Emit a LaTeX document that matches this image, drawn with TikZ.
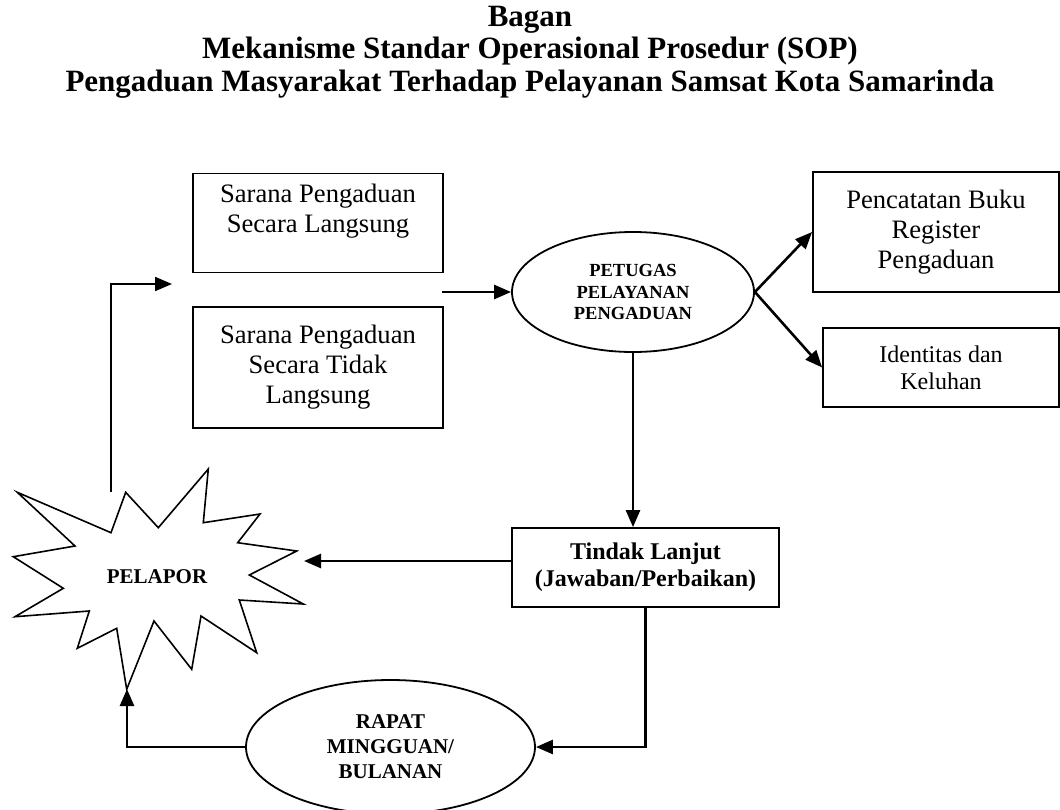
\documentclass[tikz,border=0pt]{standalone}
\usepackage{fontspec}
\setmainfont{Liberation Serif}
\usetikzlibrary{arrows.meta,shapes.geometric}

\tikzset{
  box/.style={draw, line width=1.8pt, align=center, inner sep=0pt,
    font=\fontsize{26.6}{30}\selectfont},
  oval/.style={draw, ellipse, line width=1.8pt, align=center, inner sep=0pt},
  arr/.style={line width=2.6pt, -{Triangle[length=17pt,width=14pt]}},
}

\begin{document}
\begin{tikzpicture}[x=1pt,y=-1pt]
  \useasboundingbox (0,0) rectangle (1060,809);

  % judul
  \node[align=center, font=\fontsize{31}{32.5}\selectfont\bfseries] (judul) at (530,52)
    {Bagan\\Mekanisme Standar Operasional Prosedur (SOP)\\Pengaduan Masyarakat Terhadap Pelayanan Samsat Kota Samarinda};

  \node[box, minimum width=250, minimum height=99] (langsung) at (318,223) {Sarana Pengaduan\\Secara Langsung\\\mbox{}};
  \node[box, minimum width=250, minimum height=121] (tidaklangsung) at (318,367.5) {Sarana Pengaduan\\Secara Tidak\\Langsung};

  \node[oval, minimum width=242, minimum height=120, font=\fontsize{18.5}{21.5}\selectfont\bfseries] (petugas) at (633,292) {PETUGAS\\PELAYANAN\\PENGADUAN};

  \node[box, minimum width=246, minimum height=120] (pencatatan) at (936,232) {Pencatatan Buku\\Register\\Pengaduan};
  \node[box, minimum width=236, minimum height=79, font=\fontsize{24}{27}\selectfont] (identitas) at (941,367.5) {Identitas dan\\Keluhan};

  \node[box, minimum width=267, minimum height=79, font=\fontsize{24}{27}\selectfont\bfseries] (tindak) at (645.5,567.5) {Tindak Lanjut\\(Jawaban/Perbaikan)};
  \node[oval, minimum width=289, minimum height=134, font=\fontsize{21}{25}\selectfont\bfseries] (rapat) at (390.5,747) {RAPAT\\MINGGUAN/\\BULANAN};

  % pelapor
  \node[font=\fontsize{21}{25}\selectfont\bfseries] (pelapor) at (157,577) {PELAPOR};
  \draw[line width=1.6pt, line join=miter] (17.3,492.3) -- (111,532.7) -- (125.7,492.3) -- (158.3,527.7)
    -- (208.3,469) -- (203.3,522.7) -- (260,514) -- (237.7,542.7) -- (296.7,551) -- (249.3,575)
    -- (303.3,604) -- (239.3,600) -- (256.7,652.7) -- (201,616) -- (191.7,669.3) -- (154,621)
    -- (126.7,689.3) -- (116.7,628.3) -- (77.3,648.3) -- (89.3,611) -- (15,616.7) -- (63.3,588.3)
    -- (13.3,556.7) -- (75,546) -- cycle;

  \coordinate (pelapor-masuk) at (304,561);
  \coordinate (pelapor-bawah) at (127,689);
  \coordinate (balik) at (111,492);
  \coordinate (balik-ujung) at (172,284);
  \coordinate (sarana-keluar) at (442,292);

  \draw[line width=2pt, -{Triangle[length=17pt,width=14pt]}] (balik) |- (balik-ujung);
  \draw[arr] (sarana-keluar) -- (petugas.west);
  \draw[arr] (petugas.east) -- (pencatatan.west);
  \draw[arr] (petugas.east) -- (identitas.west);
  \draw[arr] (petugas.south) -- (petugas.south |- tindak.north);
  \draw[arr] ([yshift=6.5pt]tindak.west) -- (pelapor-masuk);
  \draw[arr] (tindak.south) |- (rapat.east);
  \draw[arr] (rapat.west) -| (pelapor-bawah);

\end{tikzpicture}
\end{document}
